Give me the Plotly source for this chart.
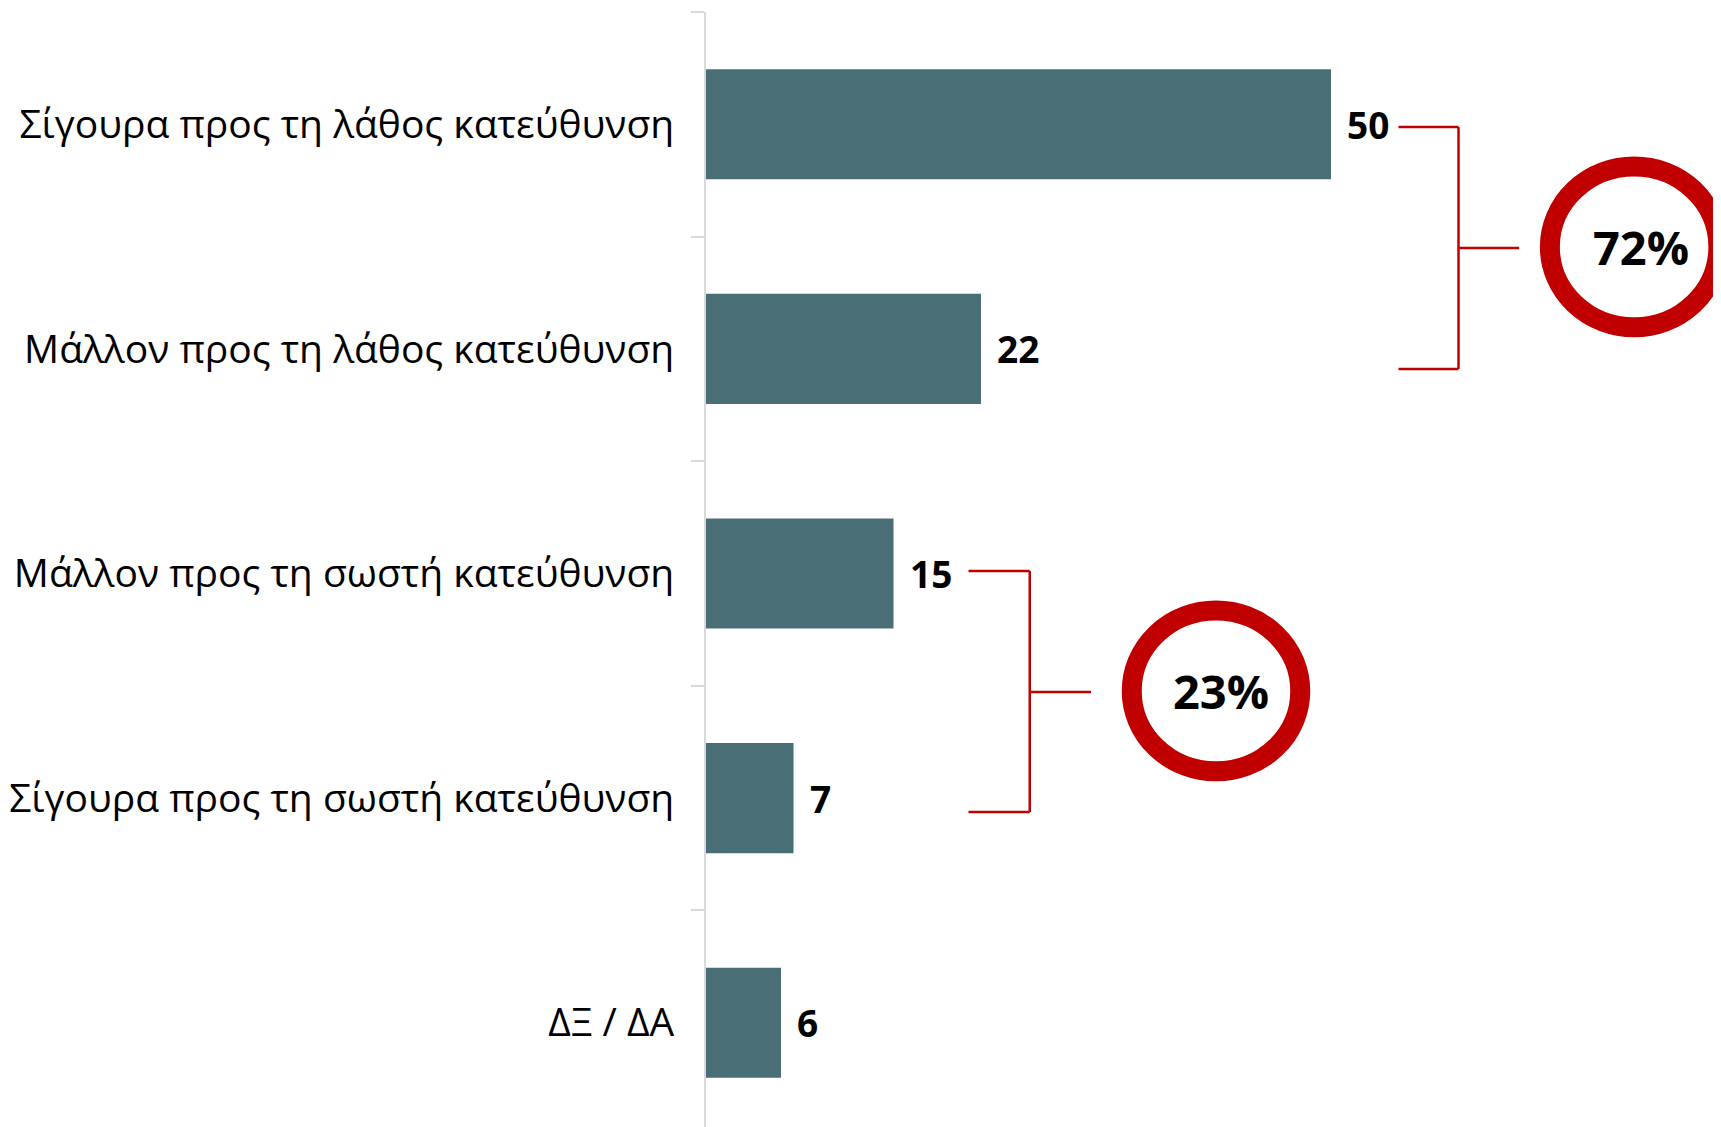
import plotly.graph_objects as go

categories = [
    "Σίγουρα προς τη λάθος κατεύθυνση",
    "Μάλλον προς τη λάθος κατεύθυνση",
    "Μάλλον προς τη σωστή κατεύθυνση",
    "Σίγουρα προς τη σωστή κατεύθυνση",
    "ΔΞ / ΔΑ",
]
values = [50, 22, 15, 7, 6]

# grouped totals (as printed in the circles)
group_members = [[0, 1], [2, 3]]
group_totals = ["72%", "23%"]

BAR_COLOR = "#4A6E76"
RED = "#C00000"
AXIS_GRAY = "#D9D9D9"
FONT = "Open Sans"

idx = list(range(len(categories)))

fig = go.Figure()
fig.add_trace(go.Bar(
    x=values, y=idx, orientation="h",
    marker=dict(color=BAR_COLOR, line=dict(width=0)),
    width=0.49, hoverinfo="skip",
))

# value labels
for i, v in zip(idx, values):
    fig.add_annotation(x=v, y=i, xref="x", yref="y", text=f"<b>{v}</b>",
                       showarrow=False, xanchor="left", yanchor="middle",
                       xshift=14, font=dict(family=FONT, size=37, color="black"))

# brackets and circles
bracket_cfg = [
    dict(left=5.4, vert=4.8, mid=4.85, circ=9.2, ytop=0.012, ybot=1.089, ymid=0.551, cy=0.546, tx=0.55),
    dict(left=6.0, vert=4.9, mid=4.9, circ=10.0, ytop=1.989, ybot=3.062, ymid=2.528, cy=2.523, tx=0.4),
]
for members, total, cfg in zip(group_members, group_totals, bracket_cfg):
    m = max(values[k] for k in members)
    xl = m + cfg["left"]
    xv = xl + cfg["vert"]
    xm = xv + cfg["mid"]
    cx = xm + cfg["circ"]
    lw = dict(color=RED, width=2.5)
    fig.add_shape(type="line", x0=xl, x1=xv, y0=cfg["ytop"], y1=cfg["ytop"], xref="x", yref="y", line=lw)
    fig.add_shape(type="line", x0=xl, x1=xv, y0=cfg["ybot"], y1=cfg["ybot"], xref="x", yref="y", line=lw)
    fig.add_shape(type="line", x0=xv, x1=xv, y0=cfg["ytop"], y1=cfg["ybot"], xref="x", yref="y", line=lw)
    fig.add_shape(type="line", x0=xv, x1=xm, y0=cfg["ymid"], y1=cfg["ymid"], xref="x", yref="y", line=lw)
    rx, ry = 6.74, 0.358
    fig.add_shape(type="circle", x0=cx - rx, x1=cx + rx, y0=cfg["cy"] - ry, y1=cfg["cy"] + ry,
                  xref="x", yref="y", line=dict(color=RED, width=20), fillcolor="rgba(0,0,0,0)")
    fig.add_annotation(x=cx + cfg["tx"], y=cfg["cy"], xref="x", yref="y", text=f"<b>{total}</b>",
                       showarrow=False, xanchor="center", yanchor="middle",
                       font=dict(family=FONT, size=47, color="black"))

fig.update_layout(
    width=1721, height=1127,
    margin=dict(l=698, r=0, t=4, b=0),
    paper_bgcolor="white", plot_bgcolor="white",
    showlegend=False,
)
fig.update_xaxes(range=[0, 81.84], visible=False, fixedrange=True)
fig.update_yaxes(
    range=[4.5, -0.5], tickmode="array", tickvals=idx, ticktext=categories,
    showline=True, linecolor=AXIS_GRAY, linewidth=2,
    showgrid=False, zeroline=False,
    ticks="", ticklen=13,
    tickfont=dict(family=FONT, size=39, color="black"),
    ticklabelstandoff=22,
    minor=dict(tickmode="array", tickvals=[-0.5, 0.5, 1.5, 2.5, 3.5, 4.5],
               ticks="outside", ticklen=13, tickcolor=AXIS_GRAY, tickwidth=2),
)

fig.write_html("out.html")
